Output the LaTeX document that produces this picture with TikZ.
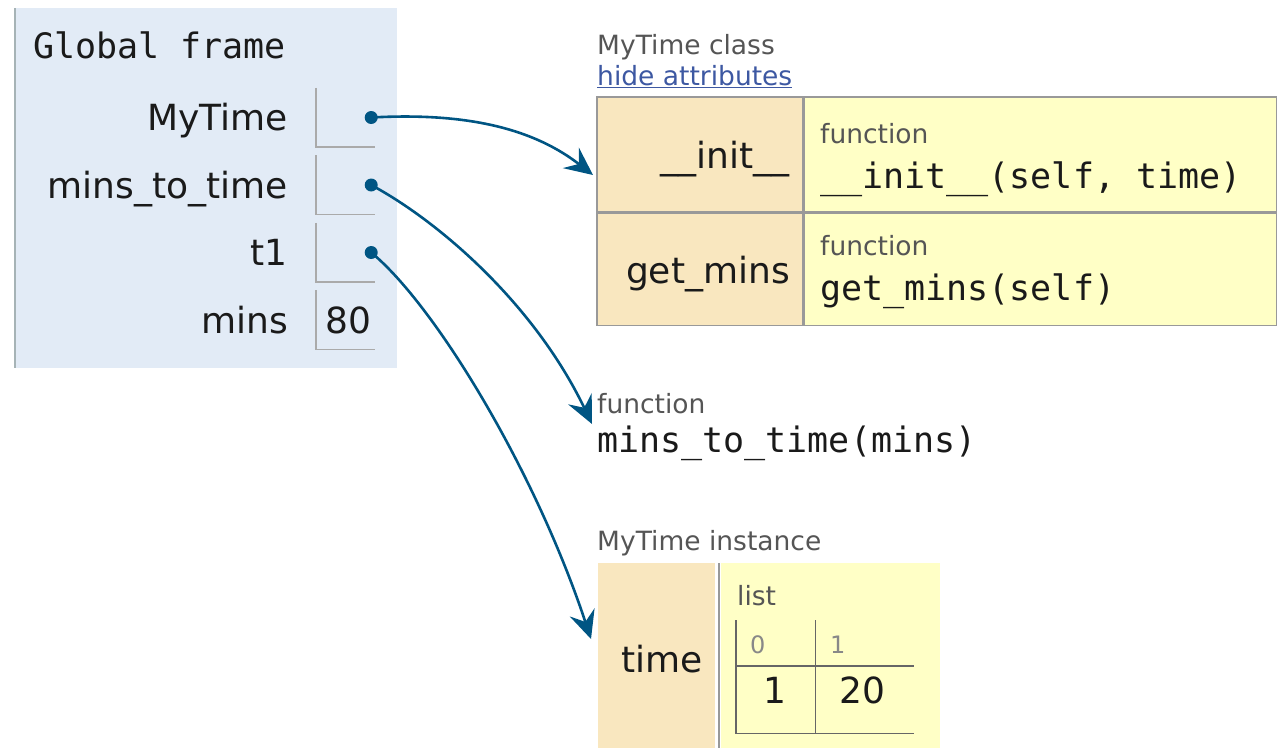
\documentclass[tikz,border=0pt]{standalone}
\usepackage{fontspec}
\setmainfont{DejaVu Sans}
\newfontfamily\codefont{DejaVu Sans Mono}
\usetikzlibrary{positioning,arrows.meta}
\definecolor{framebg}{HTML}{E2EBF6}
\definecolor{frameline}{HTML}{A6B3B6}
\definecolor{slotline}{HTML}{AAAAAA}
\definecolor{cellkey}{HTML}{F9E7BF}
\definecolor{cellval}{HTML}{FFFFC6}
\definecolor{cellline}{HTML}{999999}
\definecolor{listline}{HTML}{666666}
\definecolor{refblue}{HTML}{005583}
\definecolor{typegray}{HTML}{555555}
\definecolor{idxgray}{HTML}{888888}
\definecolor{linkblue}{HTML}{3D58A2}
\definecolor{inkdark}{HTML}{1A1A1A}

\begin{document}
\begin{tikzpicture}[x=1pt, y=-1pt, font=\fontsize{35}{40}\selectfont, text=inkdark,
    varname/.style={anchor=base east, inner sep=0pt, font=\fontsize{36}{40}\selectfont},
    slotbox/.style={minimum width=59pt, minimum height=59pt, inner sep=0pt},
    ptr/.style={circle, fill=refblue, inner sep=0pt, minimum size=13pt},
    ref/.style={draw=refblue, line width=2.6pt, -{Stealth[length=28pt, width=26pt, inset=10pt]}},
    keycell/.style={draw=cellline, fill=cellkey, line width=1.3pt, inner sep=0pt},
    valcell/.style={draw=cellline, fill=cellval, line width=1.3pt, inner sep=0pt},
    typelbl/.style={anchor=base west, inner sep=0pt, text=typegray, font=\fontsize{26.5}{30}\selectfont},
    code/.style={anchor=base west, inner sep=0pt, font=\codefont\fontsize{35}{40}\selectfont},
    elembox/.style={minimum height=113pt, inner sep=0pt, anchor=north west}]
  \useasboundingbox (0,0) rectangle (1277,748);

  % global frame
  \node[fill=framebg, minimum width=382pt, minimum height=360pt, inner sep=0pt] (frame) at (206,188) {};
  \draw[frameline, line width=2pt] (frame.north west) -- (frame.south west);
  \node[code] (title) at (33,58) {Global frame};
  \foreach \lbl [count=\i] in {MyTime, mins\_to\_time, t1, mins} {
    \node[slotbox] (slot\i) at (345.5, {117.5+67.5*(\i-1)}) {};
    \draw[slotline, line width=1.5pt] (slot\i.north west) -- (slot\i.south west) -- (slot\i.south east);
    \node[varname] (var\i) at (288, {130.5+67.5*(\i-1)}) {\lbl};
  }
  \foreach \i in {1,2,3}
    \node[ptr] (ptr\i) at ([xshift=-4pt]slot\i.east) {};
  \node[anchor=base west, inner sep=0pt, font=\fontsize{36}{40}\selectfont] (val4) at (325,333.5) {80};

  % class object
  \node[typelbl] (clslbl) at (597,54) {MyTime class};
  \node[anchor=base west, inner sep=0pt, text=linkblue, font=\fontsize{26.5}{30}\selectfont] (hide) at (597,85) {\underline{hide attributes}};
  \node[keycell, minimum width=206pt, minimum height=115pt] (initkey) at (700,154.5) {};
  \node[valcell, minimum width=472pt, minimum height=115pt, anchor=west] (initval) at (initkey.east) {};
  \node[keycell, minimum width=206pt, minimum height=112pt, anchor=north] (getkey) at (initkey.south) {};
  \node[valcell, minimum width=472pt, minimum height=112pt, anchor=west] (getval) at (getkey.east) {};
  \node[varname] (initname) at (790,168) {\_\_init\_\_};
  \node[typelbl] (inittype) at (820,143) {function};
  \node[code] (initcode) at (820,188) {\_\_init\_\_(self, time)};
  \node[varname] (getname) at (790,283) {get\_mins};
  \node[typelbl] (gettype) at (820,255) {function};
  \node[code] (getcode) at (820,300) {get\_mins(self)};

  % function object
  \node[typelbl] (fntype) at (597,413) {function};
  \node[code] (fncode) at (597,452) {mins\_to\_time(mins)};

  % instance with its list
  \node[typelbl] (instlbl) at (597,550) {MyTime instance};
  \node[fill=cellkey, minimum width=117pt, minimum height=185pt, inner sep=0pt, anchor=north west] (timekey) at (598,563) {};
  \node[fill=cellval, minimum width=219pt, minimum height=185pt, inner sep=0pt, anchor=north west] (timeval) at (721,563) {};
  \draw[cellline, line width=2pt] ([xshift=-2pt]timeval.north west) -- ([xshift=-2pt]timeval.south west);
  \node[varname] (timename) at (703,672) {time};
  \node[typelbl] (listlbl) at (737,605) {list};
  \node[elembox, minimum width=79pt] (elem0) at (736,620) {};
  \node[elembox, minimum width=98pt] (elem1) at (elem0.north east) {};
  \foreach \k in {0,1}
    \draw[listline, line width=1.5pt] (elem\k.north west) -- (elem\k.south west) -- (elem\k.south east);
  \draw[listline, line width=1.5pt] (elem0.west |- 0,666) -- (elem1.east |- 0,666);
  \node[anchor=base west, inner sep=0pt, text=idxgray, font=\fontsize{24}{28}\selectfont] (idx0) at (750,653) {0};
  \node[anchor=base west, inner sep=0pt, text=idxgray, font=\fontsize{24}{28}\selectfont] (idx1) at (830,653) {1};
  \node[anchor=base, inner sep=0pt, font=\fontsize{36}{40}\selectfont] (item0) at (775,703) {1};
  \node[anchor=base, inner sep=0pt, font=\fontsize{36}{40}\selectfont] (item1) at (862,703) {20};

  % references
  \coordinate (clsin) at (593,175);
  \coordinate (fnin) at (592,424);
  \coordinate (instin) at (591,639);
  \draw[ref] (ptr1.center) .. controls (470,112) and (535,130) .. (clsin);
  \draw[ref] (ptr2.center) .. controls (440,222) and (535,305) .. (fnin);
  \draw[ref] (ptr3.center) .. controls (435,305) and (535,470) .. (instin);
\end{tikzpicture}
\end{document}
